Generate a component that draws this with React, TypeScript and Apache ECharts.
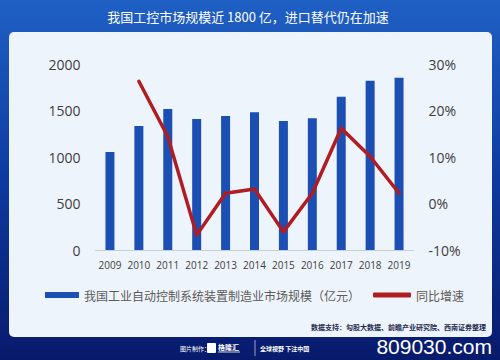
import React, { useEffect, useRef } from "react";
import * as echarts from "echarts";

const title = "我国工控市场规模近 1800 亿，进口替代仍在加速";
const years = ["2009", "2010", "2011", "2012", "2013", "2014", "2015", "2016", "2017", "2018", "2019"];
const marketSize = [1055, 1333, 1516, 1409, 1441, 1480, 1387, 1416, 1649, 1821, 1853];
const growth: (number | null)[] = [null, 26.3, 14.4, -6.8, 2.2, 3.1, -6.1, 2.2, 16.2, 10.1, 2.2];
const barName = "我国工业自动控制系统装置制造业市场规模（亿元）";
const lineName = "同比增速";
const sourceText = "数据支持：勾股大数据、前瞻产业研究院、西南证券整理";
const footerLabel = "图片制作：";
const footerBrand = "格隆汇";
const footerSlogan = "全球视野 下注中国";
const watermark = "809030.com";

export default function App() {
  const ref = useRef<HTMLDivElement>(null);
  useEffect(() => {
    if (!ref.current) return;
    const chart = echarts.init(ref.current, undefined, { renderer: "svg" });
    const cjk = "'Noto Sans CJK SC', sans-serif";
    chart.setOption({
      animation: false,
      graphic: [
        {
          type: "rect",
          z: -100,
          shape: { x: 0, y: 0, width: 500, height: 360 },
          style: {
            fill: new echarts.graphic.LinearGradient(0, 0, 0, 1, [
              { offset: 0, color: "#1f60c4" },
              { offset: 0.5, color: "#0e3a9f" },
              { offset: 1, color: "#081a6c" },
            ]),
          },
        },
        {
          type: "rect",
          z: -99,
          shape: { x: 9, y: 32, width: 483, height: 305, r: 5 },
          style: { fill: "#eef4fb" },
        },
        {
          type: "text",
          z: 10,
          x: 248,
          y: 16,
          style: {
            text: title,
            fill: "#ffffff",
            font: `normal 13px ${cjk}`,
            align: "center",
            verticalAlign: "middle",
          },
        },
        {
          type: "text",
          z: 10,
          x: 486,
          y: 327,
          style: {
            text: sourceText,
            fill: "#1e2a50",
            font: `bold 7px ${cjk}`,
            align: "right",
            verticalAlign: "middle",
          },
        },
        {
          type: "text",
          z: 10,
          x: 180,
          y: 348,
          style: {
            text: footerLabel,
            fill: "#ffffff",
            font: `6px ${cjk}`,
            align: "left",
            verticalAlign: "middle",
          },
        },
        {
          type: "rect",
          z: 10,
          shape: { x: 207, y: 343, width: 9, height: 10, r: 1 },
          style: { fill: "#ffffff" },
        },
        {
          type: "text",
          z: 10,
          x: 218,
          y: 347,
          style: {
            text: footerBrand,
            fill: "#ffffff",
            font: `bold 7px ${cjk}`,
            align: "left",
            verticalAlign: "middle",
          },
        },
        {
          type: "line",
          z: 10,
          shape: { x1: 218, y1: 352, x2: 240, y2: 352 },
          style: { stroke: "#ffffff", lineWidth: 0.8 },
        },
        {
          type: "line",
          z: 10,
          shape: { x1: 255, y1: 340, x2: 255, y2: 356 },
          style: { stroke: "#ffffff", lineWidth: 0.6 },
        },
        {
          type: "text",
          z: 10,
          x: 260,
          y: 348,
          style: {
            text: footerSlogan,
            fill: "#ffffff",
            font: `bold 6px ${cjk}`,
            align: "left",
            verticalAlign: "middle",
          },
        },
        {
          type: "text",
          z: 10,
          x: 492,
          y: 346,
          style: {
            text: watermark,
            fill: "#ffffff",
            font: `21px 'Liberation Sans', Arial, sans-serif`,
            align: "right",
            verticalAlign: "middle",
          },
        },
      ],
      grid: { left: 95.5, right: 86.5, top: 64, bottom: 110, containLabel: false },
      legend: [
        {
          left: 45,
          top: 289,
          padding: 0,
          itemWidth: 34,
          itemHeight: 6,
          itemGap: 10,
          data: [{ name: barName, icon: "rect" }],
          textStyle: { color: "#5a5a5a", fontSize: 12, fontFamily: cjk },
        },
        {
          left: 373,
          top: 289,
          padding: 0,
          itemWidth: 38,
          itemHeight: 5,
          data: [{ name: lineName, icon: "roundRect" }],
          textStyle: { color: "#5a5a5a", fontSize: 12, fontFamily: cjk },
        },
      ],
      xAxis: {
        type: "category",
        data: years,
        boundaryGap: true,
        axisTick: { show: false },
        axisLine: { lineStyle: { color: "#c9cdd6", width: 1 } },
        axisLabel: {
          color: "#404040",
          fontSize: 10,
          fontFamily: "'Open Sans', sans-serif",
          margin: 10,
          interval: 0,
        },
      },
      yAxis: [
        {
          type: "value",
          min: 0,
          max: 2000,
          interval: 500,
          splitLine: { show: false },
          axisLine: { show: false },
          axisTick: { show: false },
          axisLabel: {
            color: "#404040",
            fontSize: 14,
            fontFamily: "'Open Sans', sans-serif",
            margin: 15,
            formatter: (v: number) => String(v),
          },
        },
        {
          type: "value",
          min: -10,
          max: 30,
          interval: 10,
          splitLine: { show: false },
          axisLine: { show: false },
          axisTick: { show: false },
          axisLabel: {
            color: "#404040",
            fontSize: 14,
            fontFamily: "'Open Sans', sans-serif",
            margin: 15,
            formatter: "{value}%",
          },
        },
      ],
      series: [
        {
          name: barName,
          type: "bar",
          data: marketSize,
          barWidth: 9,
          itemStyle: { color: "#1c4fb4" },
        },
        {
          name: lineName,
          type: "line",
          yAxisIndex: 1,
          data: growth,
          showSymbol: false,
          symbol: "none",
          connectNulls: false,
          itemStyle: { color: "#b01c22" },
          lineStyle: { color: "#b01c22", width: 3.5, cap: "round", join: "round" },
          z: 3,
        },
      ],
    });
    return () => chart.dispose();
  }, []);
  return (
    <div
      ref={ref}
      style={{ position: "absolute", left: 0, top: 0, width: 500, height: 360 }}
    />
  );
}
